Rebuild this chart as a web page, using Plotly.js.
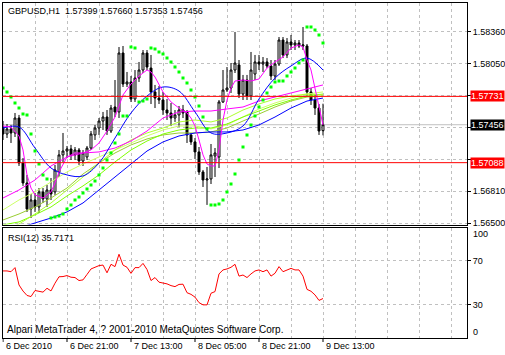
<!DOCTYPE html>
<html><head><meta charset="utf-8">
<script src="https://cdn.plot.ly/plotly-3.0.1.min.js"></script>
<style>html,body{margin:0;padding:0;background:#fff;}#chart{width:505px;height:355px;}</style>
</head><body><div id="chart"></div>
<script>
// ---- data (GBPUSD H1, bar 0 = 6 Dec 2010 05:00) ----
const open=[1.57434,1.57366,1.57415,1.57376,1.57521,1.57085,1.56891,1.56639,1.56726,1.56658,
1.56804,1.56736,1.56823,1.56804,1.56998,1.57163,1.57201,1.57221,1.57163,1.57211,
1.57104,1.57143,1.57230,1.57357,1.57424,1.57492,1.57531,1.57395,1.57628,1.57580,
1.58152,1.57851,1.57871,1.57706,1.57909,1.57987,1.58152,1.58006,1.57774,1.57715,
1.57696,1.57599,1.57570,1.57521,1.57551,1.57599,1.57580,1.57357,1.57289,1.57192,
1.56998,1.56920,1.56930,1.57153,1.57143,1.57677,1.57793,1.57812,1.57987,1.58036,
1.57754,1.57890,1.57735,1.57948,1.58065,1.58045,1.58065,1.58026,1.57929,1.58045,
1.58278,1.58133,1.58259,1.58230,1.58249,1.58220,1.58220,1.57774,1.57696,1.57618,
1.57399];
const high=[1.57492,1.57463,1.57454,1.57570,1.57551,1.57133,1.56969,1.56784,1.56794,1.56842,
1.56842,1.56872,1.56939,1.57066,1.57211,1.57376,1.57250,1.57260,1.57240,1.57230,
1.57211,1.57250,1.57395,1.57454,1.57521,1.57580,1.57599,1.57648,1.57890,1.58210,
1.58220,1.57968,1.57929,1.57987,1.58065,1.58181,1.58181,1.58133,1.57842,1.57832,
1.57774,1.57706,1.57667,1.57599,1.57638,1.57648,1.57599,1.57376,1.57327,1.57240,
1.57017,1.57046,1.57269,1.57230,1.57696,1.57987,1.58016,1.58055,1.58356,1.58084,
1.57939,1.57939,1.58162,1.58133,1.58133,1.58113,1.58103,1.58084,1.58084,1.58307,
1.58307,1.58297,1.58327,1.58278,1.58278,1.58404,1.58239,1.57812,1.57745,1.57657,
1.57660];
const low=[1.57308,1.57327,1.57279,1.57337,1.57056,1.56862,1.56610,1.56551,1.56610,1.56600,
1.56697,1.56658,1.56726,1.56775,1.56949,1.57095,1.57133,1.57114,1.57114,1.57066,
1.57056,1.57114,1.57211,1.57308,1.57357,1.57405,1.57357,1.57376,1.57531,1.57521,
1.57822,1.57822,1.57677,1.57677,1.57871,1.57958,1.57987,1.57657,1.57618,1.57657,
1.57551,1.57502,1.57444,1.57483,1.57434,1.57521,1.57279,1.57260,1.57124,1.56969,
1.56852,1.56678,1.56881,1.56949,1.57036,1.57667,1.57774,1.57764,1.57958,1.57715,
1.57696,1.57696,1.57696,1.57890,1.57987,1.57968,1.58006,1.57890,1.57890,1.58026,
1.58103,1.58103,1.58181,1.58181,1.58200,1.58181,1.57735,1.57648,1.57551,1.57357,
1.57353];
const close=[1.57366,1.57415,1.57376,1.57521,1.57085,1.56891,1.56639,1.56726,1.56658,1.56804,
1.56736,1.56823,1.56784,1.57017,1.57163,1.57201,1.57221,1.57163,1.57211,1.57104,
1.57182,1.57230,1.57366,1.57424,1.57492,1.57531,1.57395,1.57618,1.57580,1.58152,
1.57851,1.57871,1.57706,1.57909,1.57987,1.58152,1.58016,1.57774,1.57715,1.57696,
1.57599,1.57570,1.57521,1.57551,1.57599,1.57570,1.57357,1.57289,1.57192,1.56998,
1.56920,1.56930,1.57163,1.57182,1.57677,1.57793,1.57812,1.57987,1.58055,1.57754,
1.57890,1.57735,1.57987,1.58065,1.58045,1.58065,1.58026,1.57929,1.58045,1.58278,
1.58133,1.58259,1.58230,1.58249,1.58220,1.58230,1.57774,1.57696,1.57618,1.57395,
1.57456];
const sar=[1.57812,1.57774,1.57725,1.57667,1.57618,1.57560,1.57551,1.57366,1.57201,1.57075,
1.56969,1.56930,1.56551,1.56561,1.56571,1.56590,1.56639,1.56678,1.56726,1.56755,
1.56794,1.56833,1.56872,1.56910,1.56969,1.57036,1.57114,1.57182,1.57279,1.57366,
1.57541,1.57541,1.58210,1.58200,1.57677,1.57686,1.57706,1.58200,1.58191,1.58162,
1.58142,1.58103,1.58065,1.58016,1.57968,1.57909,1.57861,1.57793,1.57725,1.57638,
1.57531,1.57415,1.56678,1.56678,1.56687,1.56726,1.56804,1.56881,1.56978,1.57114,
1.57240,1.57357,1.57454,1.57541,1.57628,1.57696,1.57764,1.57822,1.57871,1.57880,
1.57880,1.57929,1.57968,1.58006,1.58055,1.58084,1.58404,1.58404,1.58375,1.58327,
1.58249];
const rsi=[60.7,60.7,60,63.7,48,42.5,38.5,37.5,43,42.5,
41.5,45,42.6,49.6,55.4,55.6,56.5,55,54.7,52,
52.6,57.5,62.5,64,65.5,66,59,66.7,64.6,75.8,
66,64,58.5,63.7,63.7,67.5,62,52,54.7,50.5,
50,49,47.4,46.5,48.5,48.7,41,39.5,37,32,
30,30,40.5,42,58,61.6,62.5,64,66.7,56,
57,54.7,58,60.7,61.6,60,61.6,56,58.6,64.6,
60,61.6,63,61.6,61.6,56,44,42.3,39,34,
35.72];
const maBars=[0,4,8,12,16,20,24,28,32,36,40,44,48,52,56,60,64,68,72,76,80];
const fastBlue=[1.57424,1.57434,1.57230,1.57036,1.56969,1.56959,1.57085,1.57327,1.57570,1.57735,1.57822,1.57783,1.57580,1.57376,1.57376,1.57444,1.57706,1.57909,1.58026,1.58103,1.57987];
const slowBlue=[1.56387,1.56454,1.56503,1.56551,1.56610,1.56697,1.56823,1.56949,1.57075,1.57201,1.57289,1.57347,1.57376,1.57386,1.57386,1.57405,1.57454,1.57531,1.57618,1.57686,1.57715];
const slowMagenta=[1.56745,1.56823,1.56920,1.57056,1.57143,1.57182,1.57192,1.57230,1.57298,1.57395,1.57521,1.57580,1.57589,1.57589,1.57609,1.57628,1.57686,1.57725,1.57764,1.57803,1.57842];
const green1=[1.56416,1.56493,1.56590,1.56697,1.56823,1.56949,1.57085,1.57211,1.57308,1.57376,1.57424,1.57483,1.57502,1.57483,1.57521,1.57599,1.57657,1.57706,1.57735,1.57754,1.57745];
const green2=[1.56484,1.56513,1.56581,1.56658,1.56765,1.56862,1.56969,1.57095,1.57211,1.57298,1.57366,1.57405,1.57424,1.57424,1.57463,1.57531,1.57589,1.57648,1.57696,1.57735,1.57754];
const green3=[1.56532,1.56590,1.56658,1.56745,1.56842,1.56978,1.57085,1.57182,1.57260,1.57318,1.57357,1.57376,1.57376,1.57386,1.57424,1.57492,1.57560,1.57628,1.57686,1.57725,1.57735];
const green4=[1.56629,1.56726,1.56804,1.56901,1.56998,1.57075,1.57143,1.57211,1.57279,1.57347,1.57405,1.57444,1.57444,1.57415,1.57454,1.57531,1.57609,1.57667,1.57715,1.57754,1.57774];
const fmBars=[0,2,4,5,6,7,8,10,12,13,14,15,16,18,20,22,24,26,28,30,32,34,36,37,38,40,42,44,46,47,48,49,50,51,52,53,54,55,56,57,58,60,62,64,66,68,70,72,74,75,76,77,78,79,80];
const fastMagenta=[1.57444,1.57434,1.57347,1.57211,1.56969,1.56842,1.56775,
1.56745,1.56804,1.56891,1.56998,1.57075,1.57143,
1.57182,1.57182,1.57211,1.57279,1.57395,1.57531,1.57745,
1.57851,1.57929,1.57987,1.57968,1.57919,1.57774,
1.57677,1.57618,1.57570,1.57521,1.57444,1.57308,1.57163,
1.57075,1.57056,1.57056,1.57211,1.57502,1.57696,1.57812,1.57880,
1.57890,1.57880,1.57900,1.58006,1.58065,1.58113,1.58200,
1.58230,1.58210,1.58084,1.57987,1.57812,1.57648,1.57454];
const priceTicks=[1.58360,1.58050,1.57740,1.57430,1.57120,1.56810,1.56500];
const redLevels=[1.57731,1.57088];
const bidPrice=1.57456;
const rsiTicks=[30,70];
const timeBars=[0,16,32,48,64,80];
const timeLabels=['6 Dec 2010','6 Dec 21:00','7 Dec 13:00','8 Dec 05:00','8 Dec 21:00','9 Dec 13:00'];
const titleText='GBPUSD,H1\u00a0\u00a01.57399\u00a01.57660\u00a01.57353\u00a01.57456';
const rsiText='RSI(12) 35.7171';
const copyText='Alpari MetaTrader 4, ? 2001-2010 MetaQuotes Software Corp.';

// ---- layout helpers (pixel -> paper) ----
const PW=467, PH=338;
const PX=x=>x/PW, PY=y=>(PH-y)/PH;
const FONT='Liberation Sans, Arial, sans-serif';
const idx=open.map((_,i)=>i);
const grid='#c0c0c0';
const boxed=redLevels.concat([bidPrice]);
const tickText=priceTicks.map(v=>boxed.some(b=>Math.abs(b-v)<0.0004)?'':v.toFixed(5));

const traces=[
 {type:'candlestick',x:idx,open:open,high:high,low:low,close:close,xaxis:'x',yaxis:'y',
  increasing:{line:{color:'#000',width:1},fillcolor:'#fff'},
  decreasing:{line:{color:'#000',width:1},fillcolor:'#000'},
  whiskerwidth:0,hoverinfo:'skip'},
 {type:'scatter',mode:'lines',x:maBars,y:green4,line:{color:'#ccff66',width:1},hoverinfo:'skip'},
 {type:'scatter',mode:'lines',x:maBars,y:green3,line:{color:'#9acd32',width:1},hoverinfo:'skip'},
 {type:'scatter',mode:'lines',x:maBars,y:green2,line:{color:'#7fff00',width:1},hoverinfo:'skip'},
 {type:'scatter',mode:'lines',x:maBars,y:green1,line:{color:'#adff2f',width:1},hoverinfo:'skip'},
 {type:'scatter',mode:'lines',x:maBars,y:slowMagenta,line:{color:'#ff00ff',width:1},hoverinfo:'skip'},
 {type:'scatter',mode:'lines',x:maBars,y:slowBlue,line:{color:'#0000ff',width:1},hoverinfo:'skip'},
 {type:'scatter',mode:'lines',x:maBars,y:fastBlue,line:{color:'#0000ff',width:1,shape:'spline'},hoverinfo:'skip'},
 {type:'scatter',mode:'lines',x:fmBars,y:fastMagenta,line:{color:'#ff00ff',width:1},hoverinfo:'skip'},
 {type:'scatter',mode:'markers',x:idx,y:sar,marker:{symbol:'square',size:3,color:'#00ff00',line:{width:0}},hoverinfo:'skip'},
 {type:'scatter',mode:'lines',x:idx,y:rsi,xaxis:'x2',yaxis:'y2',line:{color:'#ff0000',width:1},hoverinfo:'skip'}
];

const xr=[-0.125,116];
const xCommon={range:xr,domain:[PX(2.5),1],showline:true,mirror:true,linecolor:'#000',linewidth:1,
  showgrid:true,gridcolor:grid,griddash:'3px,3px',gridwidth:1,tickmode:'linear',tick0:0,dtick:8,
  showticklabels:false,ticks:'',zeroline:false,fixedrange:true};

const shapes=[];
redLevels.forEach(v=>shapes.push({type:'line',xref:'paper',x0:PX(2.5),x1:1,yref:'y',y0:v,y1:v,line:{color:'#ff0000',width:1}}));
shapes.push({type:'line',xref:'paper',x0:PX(2.5),x1:1,yref:'y',y0:bidPrice,y1:bidPrice,layer:'below',line:{color:grid,width:1}});
timeBars.forEach(b=>shapes.push({type:'line',xref:'x2',x0:b,x1:b,yref:'paper',y0:0,y1:PY(342),line:{color:'#000',width:1}}));

const ann=[];
ann.push({xref:'paper',yref:'paper',x:PX(6),y:PY(11),xanchor:'left',yanchor:'middle',text:titleText,showarrow:false,font:{family:FONT,size:9,color:'#000'}});
ann.push({xref:'paper',yref:'paper',x:PX(6),y:PY(238),xanchor:'left',yanchor:'middle',text:rsiText,showarrow:false,font:{family:FONT,size:9,color:'#000'}});
ann.push({xref:'paper',yref:'paper',x:PX(5),y:PY(329),xanchor:'left',yanchor:'middle',text:copyText,showarrow:false,font:{family:FONT,size:10,color:'#000'}});
timeBars.forEach((b,k)=>ann.push({xref:'x2',yref:'paper',x:b,y:PY(346),xanchor:'left',yanchor:'middle',xshift:1,text:timeLabels[k],showarrow:false,font:{family:FONT,size:9,color:'#000'}}));
redLevels.forEach(v=>ann.push({xref:'paper',yref:'y',x:PX(470),y:v,xanchor:'left',yanchor:'middle',text:v.toFixed(5),showarrow:false,bgcolor:'#ff0000',borderpad:0,font:{family:FONT,size:9,color:'#fff'}}));
ann.push({xref:'paper',yref:'y',x:PX(470),y:bidPrice,xanchor:'left',yanchor:'middle',text:bidPrice.toFixed(5),showarrow:false,bgcolor:'#000',borderpad:0,font:{family:FONT,size:9,color:'#fff'}});
ann.push({xref:'paper',yref:'paper',x:PX(471),y:PY(234),xanchor:'left',yanchor:'middle',text:'100',showarrow:false,font:{family:FONT,size:9,color:'#000'}});
ann.push({xref:'paper',yref:'paper',x:PX(471),y:PY(331.5),xanchor:'left',yanchor:'middle',text:'0',showarrow:false,font:{family:FONT,size:9,color:'#000'}});

const layout={
 width:505,height:355,margin:{l:0,r:38,t:0,b:17,pad:0},
 paper_bgcolor:'#fff',plot_bgcolor:'#fff',showlegend:false,hovermode:false,
 xaxis:Object.assign({},xCommon,{anchor:'y',rangeslider:{visible:false}}),
 xaxis2:Object.assign({},xCommon,{anchor:'y2'}),
 yaxis:{domain:[PY(224.5),PY(2.5)],range:[1.56488,1.58642],side:'right',anchor:'x',
   tickmode:'array',tickvals:priceTicks,ticktext:tickText,
   ticks:'outside',ticklen:3,tickcolor:'#000',tickwidth:1,
   showline:true,mirror:true,linecolor:'#000',linewidth:1,
   showgrid:true,gridcolor:grid,griddash:'3px,3px',zeroline:false,fixedrange:true,
   tickfont:{family:FONT,size:9,color:'#000'}},
 yaxis2:{domain:[0,PY(227.5)],range:[0,100],side:'right',anchor:'x2',
   tickmode:'array',tickvals:rsiTicks,ticktext:rsiTicks.map(String),
   ticks:'outside',ticklen:3,tickcolor:'#000',tickwidth:1,
   showline:true,mirror:true,linecolor:'#000',linewidth:1,
   showgrid:true,gridcolor:grid,griddash:'3px,3px',zeroline:false,fixedrange:true,
   tickfont:{family:FONT,size:9,color:'#000'}},
 shapes:shapes,annotations:ann
};
Plotly.newPlot('chart',traces,layout,{staticPlot:true,displayModeBar:false});
</script></body></html>
